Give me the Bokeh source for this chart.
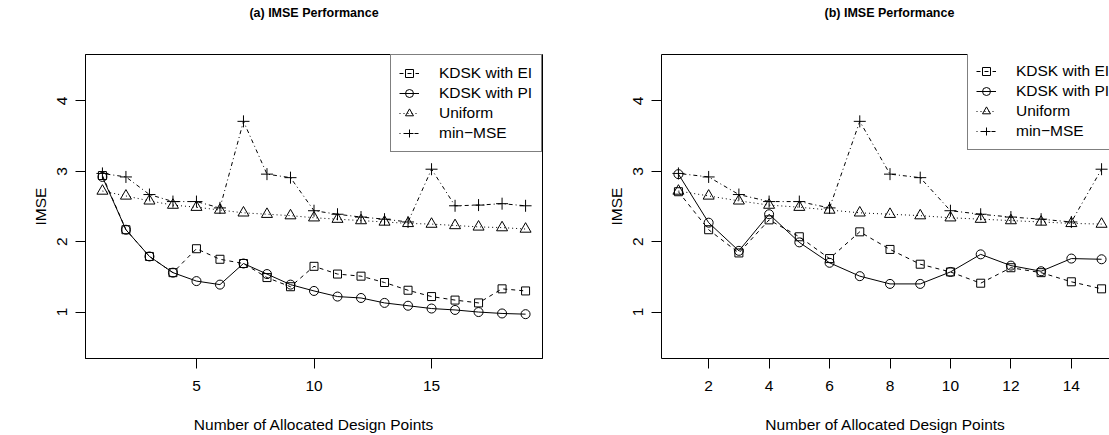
from bokeh.plotting import figure
from bokeh.layouts import row
from bokeh.models import Range1d, FixedTicker, LinearAxis, Legend, LegendItem, Title
from bokeh.embed import file_html
from bokeh.resources import INLINE

# ---------------- data ----------------
x_a = [1, 2, 3, 4, 5, 6, 7, 8, 9, 10, 11, 12, 13, 14, 15, 16, 17, 18, 19]
ei_a = [2.94, 2.17, 1.79, 1.56, 1.90, 1.75, 1.69, 1.49, 1.36, 1.65, 1.54, 1.51, 1.42, 1.31, 1.22, 1.17, 1.13, 1.33, 1.30]
pi_a = [2.92, 2.17, 1.79, 1.56, 1.44, 1.39, 1.69, 1.54, 1.39, 1.30, 1.22, 1.20, 1.13, 1.09, 1.05, 1.03, 1.00, 0.98, 0.97]
unif_a = [2.72, 2.65, 2.58, 2.52, 2.49, 2.45, 2.41, 2.39, 2.37, 2.34, 2.32, 2.30, 2.28, 2.26, 2.25, 2.23, 2.21, 2.20, 2.18]
mmse_a = [2.97, 2.92, 2.67, 2.57, 2.57, 2.48, 3.71, 2.96, 2.91, 2.44, 2.39, 2.35, 2.32, 2.28, 3.03, 2.51, 2.52, 2.54, 2.51]

x_b = [1, 2, 3, 4, 5, 6, 7, 8, 9, 10, 11, 12, 13, 14, 15]
ei_b = [2.71, 2.17, 1.84, 2.31, 2.07, 1.76, 2.14, 1.89, 1.68, 1.57, 1.41, 1.63, 1.56, 1.43, 1.33]
pi_b = [2.96, 2.27, 1.87, 2.39, 1.99, 1.70, 1.51, 1.40, 1.40, 1.57, 1.82, 1.66, 1.58, 1.76, 1.75]
unif_b = [2.72, 2.65, 2.58, 2.52, 2.49, 2.45, 2.41, 2.39, 2.37, 2.34, 2.32, 2.30, 2.28, 2.26, 2.25]
mmse_b = [2.97, 2.92, 2.67, 2.57, 2.57, 2.48, 3.71, 2.96, 2.91, 2.44, 2.39, 2.35, 2.32, 2.28, 3.03]

xticks_a = [5, 10, 15]
xticks_b = [2, 4, 6, 8, 10, 12, 14]
yticks = [1, 2, 3, 4]
series_names = ["KDSK with EI", "KDSK with PI", "Uniform", "min\u2212MSE"]
titles = ["(a) IMSE Performance", "(b) IMSE Performance"]
x_label = "Number of Allocated Design Points"
y_label = "IMSE"

FONT = "Liberation Sans"
FS = "15.5px"

styles = [
    dict(dash="4 4", marker="square", size=8),
    dict(dash="solid", marker="circle", size=9),
    dict(dash="1 3", marker="triangle", size=11),
    dict(dash="1 3 4 3", marker="cross", size=12),
]


def style_axis(ax, ticks):
    ax.ticker = FixedTicker(ticks=ticks)
    ax.major_tick_out = 10
    ax.major_tick_in = 0
    ax.minor_tick_line_color = None
    ax.axis_line_color = "black"
    ax.major_tick_line_color = "black"
    ax.major_label_text_font = FONT
    ax.major_label_text_font_size = FS
    ax.major_label_text_color = "black"
    ax.axis_label_text_font = FONT
    ax.axis_label_text_font_size = FS
    ax.axis_label_text_font_style = "normal"
    ax.axis_label_text_color = "black"


def make_panel(x, ys, xr, xticks, title, width, bl, br, legend_loc, clipped):
    p = figure(width=width, height=435, x_range=xr, y_range=Range1d(0.34, 4.66),
               output_backend="svg", toolbar_location=None,
               min_border_left=bl, min_border_right=br, min_border_top=54, min_border_bottom=77,
               background_fill_color="white", border_fill_color="white")
    p.grid.visible = False
    p.outline_line_color = None if clipped else "black"
    xa = p.below[0]
    ya = p.left[0]
    style_axis(xa, xticks)
    style_axis(ya, yticks)
    xa.major_label_standoff = 12
    xa.axis_label_standoff = 22
    xa.axis_label = x_label
    ya.major_label_orientation = "vertical"
    ya.major_label_standoff = 8
    ya.axis_label_standoff = 6
    ya.axis_label = y_label

    if clipped:
        # empty top axis: only draws the top edge of the (cut) box
        top = LinearAxis(ticker=FixedTicker(ticks=[]), major_tick_out=0, major_tick_in=0,
                         major_label_standoff=0, major_tick_line_color=None,
                         minor_tick_line_color=None, minor_tick_out=0,
                         major_label_text_font_size="1px", axis_line_color="black")
        p.add_layout(top, "above")
        # centre the title on the full (partly hidden) box
        ttl = Title(text=title + "\n\n", align="left", offset=163, standoff=10,
                    vertical_align="top")
    else:
        ttl = Title(text=title + "\n\n", align="center", standoff=10, vertical_align="top")
    ttl.text_font = FONT
    ttl.text_font_style = "bold"
    ttl.text_font_size = "12.5px"
    ttl.text_color = "black"
    p.add_layout(ttl, "above")

    items = []
    for name, yv, st in zip(series_names, ys, styles):
        lr = p.line(x, yv, line_color="black", line_width=1, line_dash=st["dash"])
        sr = p.scatter(x, yv, marker=st["marker"], size=st["size"], line_color="black",
                       fill_color=None, line_width=1)
        items.append(LegendItem(label=name, renderers=[lr, sr]))
    leg = Legend(items=items, location=legend_loc, margin=0, padding=8, spacing=0,
                 glyph_height=20, glyph_width=20, label_height=20, label_standoff=20,
                 label_width=94, label_text_font=FONT, label_text_font_size=FS,
                 label_text_color="black", border_line_color="black", border_line_width=1,
                 background_fill_color="white", background_fill_alpha=1)
    p.add_layout(leg)
    return p


FRAME_W = 457
FRAME_H = 304
LEG_H = 96
p1 = make_panel(x_a, [ei_a, pi_a, unif_a, mmse_a], Range1d(0.28, 19.72), xticks_a, titles[0],
                555, 85, 13, "top_right", False)
# right panel: full frame would span 0.44..15.56 over 457 px; only 448 px are visible
vis_w = 554 - 106
x_end_b = 0.44 + (15.56 - 0.44) * vis_w / FRAME_W
p2 = make_panel(x_b, [ei_b, pi_b, unif_b, mmse_b], Range1d(0.44, x_end_b), xticks_b, titles[1],
                554, 106, 0, (306, FRAME_H - LEG_H), True)

layout = row(p1, p2, spacing=0)
open("out.html", "w").write(file_html(layout, INLINE))
